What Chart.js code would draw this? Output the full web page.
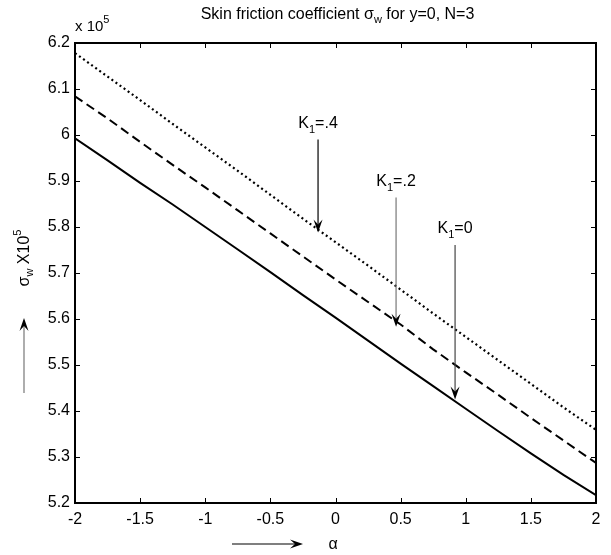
<!DOCTYPE html>
<html>
<head>
<meta charset="utf-8">
<script src="https://cdn.jsdelivr.net/npm/chart.js@4"></script>
<style>
body { margin: 0; background: #fff; }
</style>
</head>
<body>
<canvas id="myChart" width="611" height="555"></canvas>
<script>
// valores (sigma_w en unidades de 10^5)
var alpha = [-2, -1.75, -1.5, -1.25, -1, -0.75, -0.5, -0.25, 0, 0.25, 0.5, 0.75, 1, 1.25, 1.5, 1.75, 2];
var k1_0  = [5.993, 5.945, 5.896, 5.849, 5.800, 5.751, 5.702, 5.652, 5.603, 5.553, 5.503, 5.454, 5.405, 5.356, 5.308, 5.261, 5.217];
var k1_02 = [6.084, 6.036, 5.985, 5.935, 5.886, 5.836, 5.786, 5.736, 5.686, 5.637, 5.588, 5.534, 5.484, 5.435, 5.385, 5.336, 5.287];
var k1_04 = [6.178, 6.127, 6.076, 6.024, 5.973, 5.922, 5.870, 5.818, 5.767, 5.716, 5.664, 5.612, 5.561, 5.510, 5.459, 5.408, 5.359];

// etiquetas de las flechas
var kLabels = ["=.4", "=.2", "=0"];
var kArrowX = [-0.134, 0.465, 0.918];
var kArrowTop = [5.99, 5.864, 5.761];
var kArrowTip = [5.788, 5.583, 5.425];

var FONT = "'Liberation Sans', Arial, sans-serif";

function pts(ys) {
  return alpha.map(function(a, i) { return {x: a, y: ys[i]}; });
}

function fmt(v) { return String(+v.toFixed(1)); }

// dibuja texto con sub/superindices, parts = [[texto, tamaño, desplazamiento]]
function richText(ctx, parts, x, y, align) {
  var total = 0;
  parts.forEach(function(p) { ctx.font = p[1] + "px " + FONT; total += ctx.measureText(p[0]).width; });
  var cx = align == "center" ? x - total / 2 : x;
  ctx.textAlign = "left";
  ctx.textBaseline = "alphabetic";
  parts.forEach(function(p) {
    ctx.font = p[1] + "px " + FONT;
    ctx.fillText(p[0], cx, y + p[2]);
    cx += ctx.measureText(p[0]).width;
  });
}

function arrowHead(ctx, x, y, dir) { // dir: 1 abajo, -1 arriba
  ctx.beginPath();
  ctx.moveTo(x, y);
  ctx.lineTo(x - 4.5, y - 13 * dir);
  ctx.lineTo(x, y - 8 * dir);
  ctx.lineTo(x + 4.5, y - 13 * dir);
  ctx.closePath();
  ctx.fill();
}

var matlabLook = {
  id: 'matlabLook',
  afterDraw: function(chart) {
    var ctx = chart.ctx, a = chart.chartArea;
    var xs = chart.scales.x, ys = chart.scales.y;
    ctx.save();
    ctx.fillStyle = "#000";
    ctx.strokeStyle = "#000";

    // marco
    ctx.lineWidth = 2;
    ctx.strokeRect(a.left, a.top, a.right - a.left, a.bottom - a.top);

    // ticks hacia dentro
    ctx.lineWidth = 1;
    xs.ticks.forEach(function(t) {
      var px = Math.round(xs.getPixelForValue(t.value)) + 0.5;
      ctx.beginPath();
      ctx.moveTo(px, a.bottom); ctx.lineTo(px, a.bottom - 5);
      ctx.moveTo(px, a.top); ctx.lineTo(px, a.top + 5);
      ctx.stroke();
    });
    ys.ticks.forEach(function(t) {
      var py = Math.round(ys.getPixelForValue(t.value)) + 0.5;
      ctx.beginPath();
      ctx.moveTo(a.left, py); ctx.lineTo(a.left + 5, py);
      ctx.moveTo(a.right, py); ctx.lineTo(a.right - 5, py);
      ctx.stroke();
    });

    // titulo
    var cx = (a.left + a.right) / 2;
    richText(ctx, [["Skin friction coefficient \u03c3", 16, 0], ["w", 11, 4], [" for y=0, N=3", 16, 0]], cx + 2, 19, "center");

    // x 10^5
    richText(ctx, [["x 10", 15, 0], ["5", 11, -8]], a.left, 31, "left");

    // titulo eje y
    ctx.save();
    ctx.translate(29, 258);
    ctx.rotate(-Math.PI / 2);
    richText(ctx, [["\u03c3", 16, 0], ["w", 11, 4], [" X10", 16, 0], ["5", 11, -8]], 0, 0, "center");
    ctx.restore();

    // flecha eje y
    ctx.strokeStyle = "#777";
    ctx.lineWidth = 1.2;
    ctx.beginPath(); ctx.moveTo(24, 393); ctx.lineTo(24, 326); ctx.stroke();
    arrowHead(ctx, 24, 318, -1);

    // flecha eje x y alfa
    ctx.strokeStyle = "#000";
    ctx.beginPath(); ctx.moveTo(232, 544); ctx.lineTo(296, 544); ctx.stroke();
    ctx.save();
    ctx.translate(303, 544);
    ctx.rotate(Math.PI / 2);
    arrowHead(ctx, 0, 0, -1);
    ctx.restore();
    ctx.font = "16px " + FONT;
    ctx.textAlign = "center";
    ctx.fillText("\u03b1", 333, 549);

    // flechas K1
    var shaft = ["#000", "#777", "#444"];
    kLabels.forEach(function(lab, i) {
      var px = xs.getPixelForValue(kArrowX[i]);
      var top = ys.getPixelForValue(kArrowTop[i]);
      var tip = ys.getPixelForValue(kArrowTip[i]);
      ctx.strokeStyle = shaft[i];
      ctx.lineWidth = 1.2;
      ctx.beginPath(); ctx.moveTo(px, top); ctx.lineTo(px, tip - 8); ctx.stroke();
      ctx.fillStyle = "#000";
      arrowHead(ctx, px, tip, 1);
      richText(ctx, [["K", 16, 0], ["1", 11, 5], [lab, 16, 0]], px, top - 12, "center");
    });
    ctx.restore();
  }
};

var ctx = document.getElementById('myChart').getContext('2d');
var myChart = new Chart(ctx, {
  type: 'line',
  data: {
    datasets: [{
      label: 'K1=0',
      data: pts(k1_0),
      borderColor: '#000',
      borderWidth: 2,
      pointRadius: 0
    }, {
      label: 'K1=.2',
      data: pts(k1_02),
      borderColor: '#000',
      borderWidth: 2,
      borderDash: [9, 5],
      pointRadius: 0
    }, {
      label: 'K1=.4',
      data: pts(k1_04),
      borderColor: '#000',
      borderWidth: 2.2,
      borderDash: [2, 3],
      pointRadius: 0
    }]
  },
  options: {
    responsive: false,
    animation: false,
    devicePixelRatio: 1,
    layout: { padding: { top: 43, right: 15, left: 0, bottom: 0 } },
    plugins: { legend: { display: false }, tooltip: { enabled: false } },
    scales: {
      x: {
        type: 'linear', min: -2, max: 2,
        ticks: { stepSize: 0.5, color: '#000', padding: 7, maxRotation: 0, autoSkip: false,
                 font: { family: FONT, size: 16 }, callback: fmt },
        grid: { display: false, drawTicks: false },
        border: { display: false },
        afterFit: function(s) { s.height = 52; }
      },
      y: {
        min: 5.2, max: 6.2,
        ticks: { stepSize: 0.1, color: '#000', padding: 5, autoSkip: false,
                 font: { family: FONT, size: 16 }, callback: fmt },
        grid: { display: false, drawTicks: false },
        border: { display: false },
        afterFit: function(s) { s.width = 75; }
      }
    }
  },
  plugins: [matlabLook]
});
</script>
</body>
</html>
